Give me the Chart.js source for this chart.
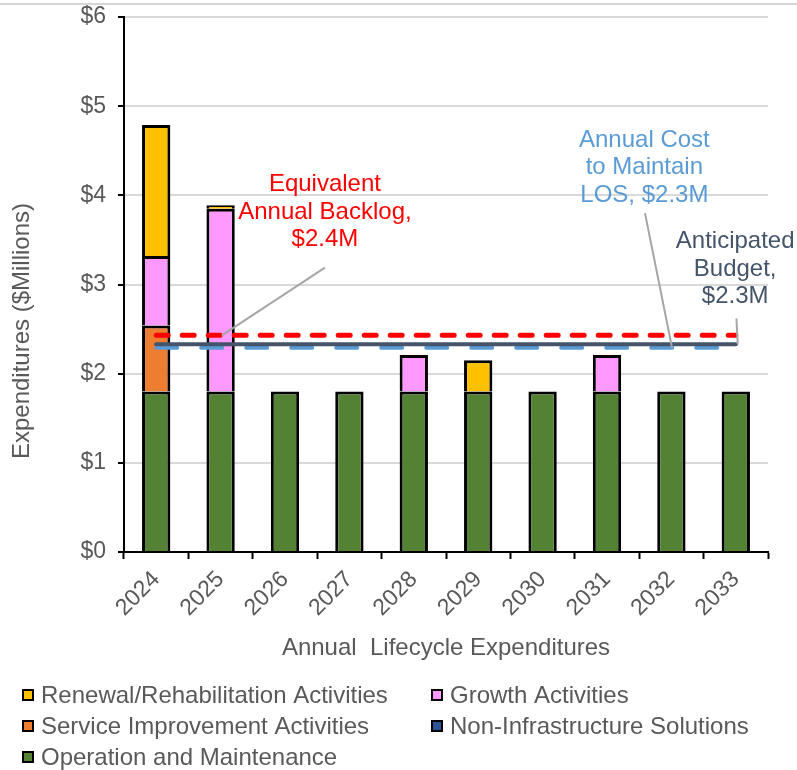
<!DOCTYPE html>
<html>
<head>
<meta charset="utf-8">
<title>Annual Lifecycle Expenditures</title>
<script src="https://cdn.jsdelivr.net/npm/chart.js@4.4.1/dist/chart.umd.min.js"></script>
<style>
  html, body { margin: 0; padding: 0; background: #ffffff; }
  canvas { display: block; }
</style>
</head>
<body>
<canvas id="chart" width="797" height="770"></canvas>
<script>
// Years on the category axis
const years = ['2024', '2025', '2026', '2027', '2028', '2029', '2030', '2031', '2032', '2033'];

// Stacked expenditure components ($ millions)
const operationMaintenance = [1.80, 1.80, 1.80, 1.80, 1.80, 1.80, 1.80, 1.80, 1.80, 1.80];
const serviceImprovement   = [0.74, 0, 0, 0, 0, 0, 0, 0, 0, 0];
const growthActivities     = [0.78, 2.05, 0, 0, 0.41, 0, 0, 0.41, 0, 0];
const renewalRehab         = [1.47, 0.04, 0, 0, 0, 0.35, 0, 0, 0, 0];
const nonInfrastructure    = [0, 0, 0, 0, 0, 0, 0, 0, 0, 0];

// Reference levels ($ millions per year)
const equivalentBacklog = [2.43, 2.43, 2.43, 2.43, 2.43, 2.43, 2.43, 2.43, 2.43, 2.43];
const anticipatedBudget = [2.33, 2.33, 2.33, 2.33, 2.33, 2.33, 2.33, 2.33, 2.33, 2.33];
const costToMaintainLOS = [2.29, 2.29, 2.29, 2.29, 2.29, 2.29, 2.29, 2.29, 2.29, 2.29];

// Y axis tick values
const yTicks = [0, 1, 2, 3, 4, 5, 6];

const FONT = '"Liberation Sans", Arial, sans-serif';
const GREY_TEXT = '#595959';
const Y_TITLE = 'Expenditures ($Millions)';

const money = v => '$' + v.toFixed(1) + 'M';

// Callout labels with leader lines, positioned in axis units (category index, $M)
const callouts = [
  {
    color: '#FF0000',
    lines: ['Equivalent', 'Annual Backlog,', money(equivalentBacklog[0])],
    textAt: { x: 2.62, y: 4.12 },
    leaderFrom: { x: 2.62, y: 3.19 },
    leaderTo: { x: 1.02, y: equivalentBacklog[0] }
  },
  {
    color: '#5B9BD5',
    lines: ['Annual Cost', 'to Maintain', 'LOS, ' + money(costToMaintainLOS[0])],
    textAt: { x: 7.58, y: 4.62 },
    leaderFrom: { x: 7.59, y: 3.80 },
    leaderTo: { x: 8.01, y: costToMaintainLOS[0] }
  },
  {
    color: '#44546A',
    lines: ['Anticipated', 'Budget,', money(anticipatedBudget[0])],
    textAt: { x: 8.99, y: 3.48 },
    leaderFrom: { x: 9.01, y: 2.62 },
    leaderTo: { x: 9.03, y: anticipatedBudget[0] }
  }
];

const calloutPlugin = {
  id: 'callouts',
  afterDatasetsDraw(chart) {
    const { ctx, scales: { x, y } } = chart;
    ctx.save();
    callouts.forEach(c => {
      ctx.strokeStyle = '#A6A6A6';
      ctx.lineWidth = 2;
      ctx.beginPath();
      ctx.moveTo(x.getPixelForValue(c.leaderFrom.x), y.getPixelForValue(c.leaderFrom.y));
      ctx.lineTo(x.getPixelForValue(c.leaderTo.x), y.getPixelForValue(c.leaderTo.y));
      ctx.stroke();

      ctx.fillStyle = c.color;
      ctx.font = '24px ' + FONT;
      ctx.textAlign = 'center';
      ctx.textBaseline = 'middle';
      const cx = x.getPixelForValue(c.textAt.x);
      const cy = y.getPixelForValue(c.textAt.y);
      c.lines.forEach((t, i) => ctx.fillText(t, cx, cy + i * 27.5));
    });
    ctx.restore();
  }
};

// Vertical axis title, centred on the plot including the year labels
const yTitlePlugin = {
  id: 'yTitle',
  afterDraw(chart) {
    const { ctx, chartArea, scales: { x } } = chart;
    const yMid = (chartArea.top + x.bottom - 20) / 2;
    ctx.save();
    ctx.translate(22, yMid);
    ctx.rotate(-Math.PI / 2);
    ctx.font = '24px ' + FONT;
    ctx.fillStyle = GREY_TEXT;
    ctx.textAlign = 'center';
    ctx.textBaseline = 'middle';
    ctx.fillText(Y_TITLE, 0, 0);
    ctx.restore();
  }
};

// Two-column legend below the axis title, built from the bar datasets
const legendOrder = [
  'Renewal/Rehabilitation Activities', 'Growth Activities',
  'Service Improvement Activities', 'Non-Infrastructure Solutions',
  'Operation and Maintenance'
];
const legendPlugin = {
  id: 'gridLegend',
  afterDraw(chart) {
    const { ctx } = chart;
    ctx.save();
    ctx.font = '24px ' + FONT;
    ctx.textBaseline = 'middle';
    ctx.textAlign = 'left';
    legendOrder.forEach((name, i) => {
      const ds = chart.data.datasets.find(d => d.label === name);
      const col = i % 2, row = Math.floor(i / 2);
      const bx = col === 0 ? 22 : 431;
      const by = 695 + row * 31;
      ctx.fillStyle = '#000000';
      ctx.fillRect(bx, by - 6, 12, 12);
      ctx.fillStyle = ds.backgroundColor;
      ctx.fillRect(bx + 2, by - 4, 8, 8);
      ctx.fillStyle = GREY_TEXT;
      ctx.fillText(name, bx + 19, by + 1);
    });
    ctx.restore();
  }
};

// Thin frame line along the top of the figure
const frameLine = {
  id: 'frameLine',
  beforeDraw(chart) {
    const { ctx, width } = chart;
    ctx.save();
    ctx.strokeStyle = '#C8C8C8';
    ctx.lineWidth = 1.5;
    ctx.beginPath();
    ctx.moveTo(0, 4);
    ctx.lineTo(width, 4);
    ctx.stroke();
    ctx.restore();
  }
};

const barStyle = {
  type: 'bar',
  borderColor: '#000000',
  borderWidth: 3,
  borderSkipped: 'start',
  barPercentage: 0.44,
  categoryPercentage: 1.0,
  stack: 'spend',
  order: 10
};

const levelStyle = { type: 'line', pointRadius: 0, fill: false, borderCapStyle: 'round' };

new Chart(document.getElementById('chart'), {
  data: {
    labels: years,
    datasets: [
      {
        ...levelStyle, label: 'Equivalent Annual Backlog', data: equivalentBacklog, stack: 'backlog',
        borderColor: '#FF0000', borderWidth: 5, borderDash: [12, 14], order: 0
      },
      {
        ...levelStyle, label: 'Anticipated Budget', data: anticipatedBudget, stack: 'budget',
        borderColor: '#44546A', borderWidth: 4, order: 1
      },
      {
        ...levelStyle, label: 'Annual Cost to Maintain LOS', data: costToMaintainLOS, stack: 'los',
        borderColor: '#5B9BD5', borderWidth: 4, borderDash: [21, 24], order: 2
      },
      { ...barStyle, label: 'Operation and Maintenance', data: operationMaintenance, backgroundColor: '#548235' },
      { ...barStyle, label: 'Service Improvement Activities', data: serviceImprovement, backgroundColor: '#ED7D31' },
      { ...barStyle, label: 'Growth Activities', data: growthActivities, backgroundColor: '#FF99FF' },
      { ...barStyle, label: 'Renewal/Rehabilitation Activities', data: renewalRehab, backgroundColor: '#FFC000' },
      { ...barStyle, label: 'Non-Infrastructure Solutions', data: nonInfrastructure, backgroundColor: '#2F5597' }
    ]
  },
  options: {
    responsive: false,
    animation: false,
    devicePixelRatio: 1,
    layout: { padding: { top: 17, right: 29, bottom: 105, left: 0 } },
    plugins: {
      legend: { display: false },
      tooltip: { enabled: false }
    },
    scales: {
      x: {
        stacked: true,
        offset: true,
        grid: {
          offset: true, drawOnChartArea: false, drawTicks: true,
          tickColor: '#000000', tickWidth: 2, tickLength: 7
        },
        border: { color: '#000000', width: 2 },
        ticks: {
          autoSkip: false, minRotation: 45, maxRotation: 45, padding: 7,
          color: GREY_TEXT, font: { family: FONT, size: 23 }
        },
        title: {
          display: true, text: 'Annual  Lifecycle Expenditures',
          color: GREY_TEXT, font: { family: FONT, size: 24 }, padding: { top: 2, bottom: 2 }
        },
        afterFit(scale) { scale.height = 113; scale.paddingLeft = 0; scale.paddingRight = 0; }
      },
      y: {
        stacked: true,
        min: 0, max: 6,
        afterBuildTicks(scale) { scale.ticks = yTicks.map(v => ({ value: v })); },
        grid: {
          color: '#D9D9D9', lineWidth: 2,
          tickColor: '#000000', tickWidth: 2, tickLength: 6
        },
        border: { color: '#000000', width: 2 },
        ticks: {
          padding: 12, color: GREY_TEXT, font: { family: FONT, size: 23 },
          callback: v => '$' + v
        },
        title: { display: false },
        afterFit(scale) { scale.width = 124; scale.paddingTop = 0; scale.paddingBottom = 0; }
      }
    }
  },
  plugins: [frameLine, calloutPlugin, yTitlePlugin, legendPlugin]
});
</script>
</body>
</html>
